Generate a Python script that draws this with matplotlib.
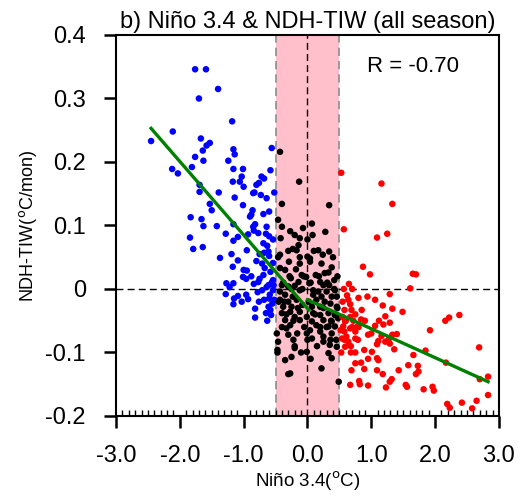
import matplotlib
matplotlib.use("Agg")
import matplotlib.pyplot as plt
import numpy as np


# values (Nino 3.4 in degC, NDH-TIW in degC/mon)
BLUE_PTS = [
    (-1.76, 0.346), (-1.59, 0.346), (-1.40, 0.315), (-1.70, 0.300), (-1.18, 0.264),
    (-2.11, 0.248), (-2.45, 0.233), (-1.67, 0.237), (-1.53, 0.230), (-1.58, 0.226),
    (-1.64, 0.218), (-1.16, 0.220), (-1.14, 0.212), (-0.56, 0.222), (-1.76, 0.208),
    (-1.63, 0.202), (-1.24, 0.202), (-1.81, 0.192), (-2.12, 0.189), (-2.03, 0.182),
    (-1.16, 0.189), (-1.01, 0.189), (-0.58, 0.187), (-1.03, 0.177), (-1.06, 0.169),
    (-1.17, 0.169), (-1.00, 0.161), (-0.72, 0.177), (-0.68, 0.174), (-0.76, 0.167),
    (-1.69, 0.164), (-1.69, 0.153), (-1.39, 0.152), (-0.83, 0.152), (-0.73, 0.148),
    (-0.64, 0.143), (-0.52, 0.152), (-1.14, 0.144), (-1.53, 0.134), (-1.01, 0.132),
    (-1.50, 0.124), (-0.86, 0.124), (-0.88, 0.117), (-0.90, 0.114), (-0.69, 0.118),
    (-0.60, 0.122), (-1.83, 0.113), (-1.66, 0.110), (-1.63, 0.099), (-1.42, 0.099),
    (-1.16, 0.102), (-0.82, 0.102), (-0.85, 0.098), (-0.64, 0.098), (-0.84, 0.092),
    (-0.77, 0.088), (-0.65, 0.087), (-0.60, 0.083), (-1.28, 0.087), (-1.09, 0.082),
    (-0.93, 0.086), (-1.16, 0.076), (-1.84, 0.081), (-0.54, 0.078), (-0.69, 0.072),
    (-0.63, 0.068), (-1.79, 0.063), (-1.64, 0.066), (-0.95, 0.061), (-1.19, 0.055),
    (-0.75, 0.055), (-0.68, 0.057), (-0.61, 0.059), (-0.60, 0.052), (-1.37, 0.049),
    (-1.09, 0.045), (-0.80, 0.044), (-0.71, 0.040), (-0.54, 0.041), (-1.17, 0.035),
    (-0.67, 0.033), (-0.58, 0.027), (-1.00, 0.030), (-0.95, 0.029), (-1.01, 0.019),
    (-0.88, 0.020), (-0.96, 0.016), (-0.69, 0.022), (-0.75, 0.016), (-0.77, 0.011),
    (-0.54, 0.014), (-0.56, 0.010), (-0.84, 0.008), (-0.61, 0.006), (-0.64, 0.003),
    (-1.27, 0.009), (-1.16, 0.009), (-1.22, 0.003), (-1.28, -0.008), (-1.09, -0.011),
    (-0.96, -0.009), (-0.93, -0.016), (-1.15, -0.015), (-1.03, -0.020), (-1.16, -0.024),
    (-0.76, -0.020), (-0.68, -0.017), (-0.60, -0.015), (-0.59, -0.009), (-0.54, -0.002),
    (-0.55, -0.023), (-0.61, -0.028), (-0.82, -0.031), (-0.58, -0.033), (-0.65, -0.038),
    (-0.82, -0.045), (-0.63, -0.050), (-0.52, -0.017), (-0.80, 0.164), (-0.85, 0.151),
    (-0.71, -0.002), (-0.78, -0.005), (-0.57, -0.041), (-0.53, 0.006),
]

BLACK_PTS = [
    (-0.43, 0.216), (-0.13, 0.169), (-0.40, 0.134), (0.34, 0.132), (-0.46, 0.109),
    (0.07, 0.103), (-0.07, 0.096), (-0.40, 0.098), (-0.27, 0.091), (-0.20, 0.085),
    (0.08, 0.085), (-0.12, 0.080), (0.00, 0.078), (-0.14, 0.069), (-0.23, 0.063),
    (-0.17, 0.061), (0.17, 0.061), (0.24, 0.054), (0.34, 0.059), (-0.43, 0.054),
    (0.00, 0.051), (0.04, 0.048), (-0.29, 0.043), (-0.12, 0.040), (0.04, 0.043),
    (-0.43, 0.033), (0.38, 0.034), (-0.18, 0.031), (-0.35, 0.030), (-0.09, 0.022),
    (-0.02, 0.019), (0.13, 0.022), (0.27, 0.025), (0.33, 0.026), (0.42, 0.014),
    (-0.26, 0.017), (-0.14, 0.011), (0.20, 0.011), (0.25, 0.006), (0.34, 0.006),
    (0.03, 0.009), (-0.40, 0.006), (-0.30, 0.004), (-0.20, 0.005), (-0.12, -0.002),
    (0.09, -0.002), (0.17, -0.004), (0.30, -0.004), (0.43, -0.002), (-0.43, -0.004),
    (-0.35, -0.009), (-0.23, -0.012), (0.09, -0.009), (0.22, -0.012), (0.38, -0.012),
    (0.46, -0.012), (-0.43, -0.017), (-0.30, -0.020), (-0.17, -0.017), (0.14, -0.017),
    (0.27, -0.020), (0.36, -0.023), (-0.38, -0.028), (-0.25, -0.028), (-0.08, -0.025),
    (0.07, -0.028), (0.20, -0.028), (0.46, -0.028), (-0.40, -0.038), (-0.27, -0.036),
    (-0.12, -0.036), (0.09, -0.038), (0.20, -0.041), (0.33, -0.038), (0.43, -0.041),
    (-0.20, -0.044), (-0.01, -0.044), (-0.35, -0.049), (-0.12, -0.049), (0.07, -0.051),
    (0.25, -0.049), (0.38, -0.051), (0.48, -0.046), (-0.27, -0.057), (0.14, -0.057),
    (0.33, -0.059), (0.43, -0.059), (-0.33, -0.062), (-0.48, -0.070), (0.20, -0.067),
    (0.04, -0.065), (-0.30, -0.072), (-0.01, -0.070), (0.25, -0.075), (-0.16, -0.070),
    (0.38, -0.070), (0.07, -0.078), (0.25, -0.083), (-0.22, -0.080), (-0.46, -0.083),
    (0.35, -0.088), (0.46, -0.091), (-0.20, -0.093), (-0.47, -0.096), (-0.01, -0.099),
    (0.33, -0.101), (-0.25, -0.107), (0.38, -0.109), (-0.35, -0.112), (0.22, -0.125),
    (-0.27, -0.133), (-0.30, -0.134), (0.49, -0.146),
    # packed core, estimated
    (-0.45, -0.020), (-0.38, 0.010), (-0.33, -0.040), (-0.28, 0.020), (-0.22, -0.050),
    (-0.15, -0.030), (-0.08, 0.000), (-0.05, -0.060), (0.02, -0.020), (0.05, 0.010),
    (0.12, -0.040), (0.18, 0.020), (0.25, -0.030), (0.31, 0.010), (0.37, -0.050),
    (0.42, 0.000), (0.47, -0.030), (-0.46, 0.050), (-0.40, -0.060), (-0.30, 0.060),
    (-0.12, 0.050), (0.10, 0.060), (0.22, 0.040), (0.40, 0.050), (0.45, -0.080),
    (-0.47, -0.100), (-0.20, -0.090), (0.15, -0.090), (0.05, -0.110), (0.30, -0.060),
    (-0.36, -0.020), (-0.42, 0.080), (0.28, 0.090), (0.47, 0.020), (-0.06, 0.020),
    (0.00, -0.080), (0.36, -0.080), (-0.25, 0.000), (0.20, -0.060), (-0.10, -0.100),
]

RED_PTS = [
    (0.53, 0.183), (1.16, 0.166), (1.33, 0.134), (0.57, 0.094), (1.09, 0.081),
    (1.25, 0.087), (0.87, 0.035), (0.98, 0.023), (1.65, 0.024), (1.70, 0.023),
    (0.65, 0.008), (1.61, 0.001), (0.70, 0.000), (1.29, -0.008), (0.80, -0.014),
    (0.94, -0.012), (1.06, -0.017), (0.64, -0.017), (0.67, -0.024), (0.58, -0.033),
    (0.69, -0.033), (0.85, -0.033), (1.18, -0.026), (1.33, -0.031), (1.49, -0.036),
    (0.55, -0.044), (0.67, -0.044), (1.22, -0.043), (2.16, -0.050), (2.22, -0.045),
    (2.38, -0.041), (0.59, -0.051), (0.72, -0.050), (0.84, -0.048), (1.19, -0.056),
    (1.29, -0.053), (1.06, -0.058), (0.56, -0.059), (0.67, -0.062), (0.77, -0.060),
    (0.58, -0.067), (0.75, -0.067), (1.92, -0.065), (0.95, -0.072), (1.16, -0.074),
    (1.33, -0.072), (1.40, -0.071), (0.61, -0.075), (0.75, -0.078), (0.54, -0.078),
    (1.11, -0.082), (1.22, -0.083), (1.27, -0.080), (1.29, -0.086), (0.64, -0.083),
    (0.79, -0.080), (1.09, -0.087), (0.59, -0.091), (1.36, -0.095), (0.89, -0.096),
    (1.01, -0.099), (2.69, -0.092), (0.68, -0.100), (0.75, -0.100), (1.85, -0.097),
    (1.66, -0.104), (1.09, -0.109), (1.11, -0.112), (0.75, -0.117), (0.84, -0.116),
    (1.58, -0.120), (1.73, -0.121), (2.17, -0.116), (0.69, -0.128), (0.89, -0.126),
    (1.09, -0.128), (1.43, -0.128), (1.74, -0.130), (1.18, -0.134), (1.70, -0.134),
    (2.83, -0.138), (2.70, -0.142), (1.32, -0.142), (1.29, -0.146), (0.81, -0.145),
    (0.82, -0.150), (0.67, -0.151), (0.95, -0.152), (1.54, -0.151), (1.56, -0.154),
    (1.23, -0.155), (1.96, -0.154), (1.98, -0.160), (1.82, -0.158), (2.83, -0.167),
    (2.65, -0.176), (2.42, -0.179), (2.19, -0.181), (2.23, -0.187), (2.58, -0.188),
    # near the band edge, estimated
    (0.55, -0.020), (0.60, -0.050), (0.62, -0.010), (0.70, -0.060), (0.58, -0.080),
    (0.75, -0.040), (0.53, -0.100), (0.68, -0.090), (0.80, -0.060), (0.57, 0.000),
    (0.90, -0.050), (1.00, -0.070), (0.95, -0.110), (1.12, -0.050), (0.52, -0.065),
]

# piecewise regression lines as drawn in the figure
FIT_LEFT_X = [-2.45, 0.02]
FIT_LEFT_Y = [0.253, -0.033]
FIT_RIGHT_X = [0.0, 2.83]
FIT_RIGHT_Y = [-0.017, -0.146]

NEUTRAL_BAND = (-0.5, 0.5)
R_VALUE = -0.70

X_TICKS = [-3, -2, -1, 0, 1, 2, 3]
X_TICK_LABELS = ["-3.0", "-2.0", "-1.0", "0.0", "1.0", "2.0", "3.0"]
Y_TICKS = [-0.2, -0.1, 0, 0.1, 0.2, 0.3, 0.4]
Y_TICK_LABELS = ["-0.2", "-0.1", "0", "0.1", "0.2", "0.3", "0.4"]

COLORS = {"la_nina": "#0000ff", "neutral": "#000000", "el_nino": "#ff0000"}


def _style():
    plt.rcParams.update({
        "font.family": ["Liberation Sans", "DejaVu Sans"],
        "axes.unicode_minus": False,
        "axes.linewidth": 1.5,
    })


def _scatter(ax, pts, color):
    arr = np.array(pts)
    ax.scatter(arr[:, 0], arr[:, 1], s=22, color=color, edgecolors="none", zorder=3)


def main():
    _style()
    fig = plt.figure(figsize=(5.21, 4.97), dpi=100)
    ax = fig.add_axes([0.2226, 0.163, 0.735, 0.7666])

    ax.axvspan(*NEUTRAL_BAND, color="#ffc0cb", zorder=0, lw=0)
    for xb in NEUTRAL_BAND:
        ax.axvline(xb, color="#8c8c8c", lw=1.2, ls=(0, (5, 3)), zorder=1)
    ax.axvline(0, color="black", lw=1.0, ls=(0, (5, 3)), zorder=1)
    ax.axhline(0, color="black", lw=1.0, ls=(0, (5, 3)), zorder=1)

    _scatter(ax, BLUE_PTS, COLORS["la_nina"])
    _scatter(ax, BLACK_PTS, COLORS["neutral"])
    _scatter(ax, RED_PTS, COLORS["el_nino"])

    ax.plot(FIT_LEFT_X, FIT_LEFT_Y, color="#008000", lw=2.4, zorder=4)
    ax.plot(FIT_RIGHT_X, FIT_RIGHT_Y, color="#008000", lw=2.4, zorder=4)

    ax.text(1.66, 0.35, f"R = {R_VALUE:.2f}", fontsize=16, ha="center", va="center")

    ax.set_xlim(-3, 3)
    ax.set_ylim(-0.2, 0.4)
    ax.set_xticks(X_TICKS)
    ax.set_xticklabels(X_TICK_LABELS)
    ax.set_xticks(np.arange(-3, 3.01, 0.1), minor=True)
    ax.set_yticks(Y_TICKS)
    ax.set_yticklabels(Y_TICK_LABELS)
    ax.tick_params(axis="both", which="major", direction="out", length=8.6, width=1.8,
                   labelsize=17)
    ax.tick_params(axis="x", which="major", pad=12)
    ax.tick_params(axis="y", which="major", pad=13)
    ax.tick_params(axis="x", which="minor", direction="in", length=4, width=1.0)

    ax.set_xlabel("Niño 3.4($^{\\rm o}$C)", fontsize=13.5, labelpad=2)
    ax.set_ylabel("NDH-TIW($^{\\rm o}$C/mon)", fontsize=13, labelpad=5)
    ax.set_title("b) Niño 3.4 & NDH-TIW (all season)", fontsize=17, pad=5)

    fig.savefig("out.png", dpi=100)
    plt.close(fig)
    return 0


if __name__ == "__main__":
    raise SystemExit(main())
